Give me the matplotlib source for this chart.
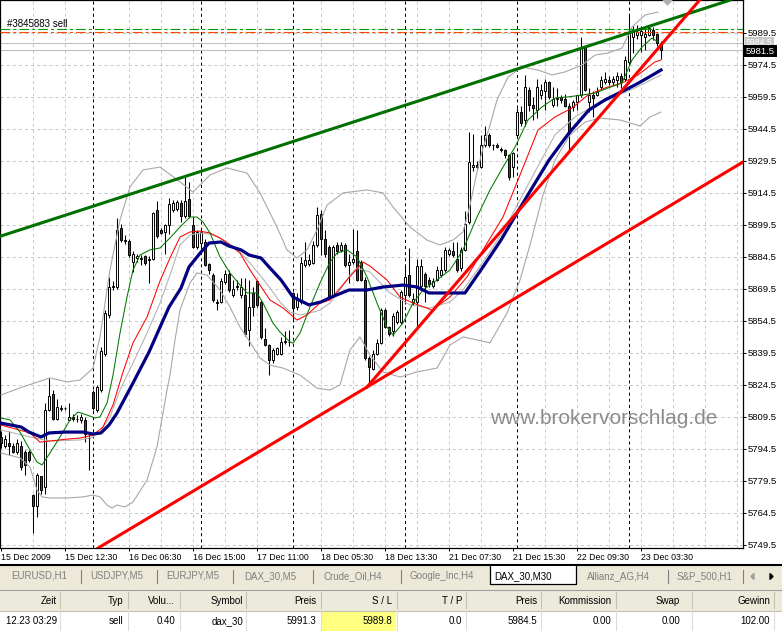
import numpy as np
import matplotlib.pyplot as plt
from matplotlib.patches import Rectangle, Polygon

plt.rcParams['font.family'] = ['Liberation Sans', 'DejaVu Sans']
plt.rcParams['lines.scale_dashes'] = False

# DAX_30, M30 candles, one value per bar
opens = [5800, 5796, 5797, 5796, 5793, 5796, 5793, 5793, 5773, 5767.5,
         5781.5, 5776.5, 5812.5, 5820, 5808.5, 5813, 5813.5, 5808, 5809.5, 5808.5,
         5808, 5808, 5799.5, 5821, 5812.5, 5822, 5839, 5857, 5870.5, 5870.5,
         5898, 5892.5, 5892, 5882, 5884, 5884, 5885, 5883, 5883.5, 5906.5,
         5897, 5896, 5899.5, 5906.5, 5907, 5909.5, 5903.5, 5911.5, 5899.5, 5889,
         5891, 5891.5, 5881, 5876, 5863.5, 5863.5, 5872.5, 5876.5, 5866.5, 5870.5,
         5866.5, 5866.5, 5850, 5867.5, 5873, 5863.5, 5846, 5843, 5836, 5839,
         5839, 5844.5, 5844.5, 5867.5, 5861, 5863.5, 5880.5, 5881, 5881.5, 5890,
         5904.5, 5893, 5889, 5866.5, 5890, 5887.5, 5890, 5880.5, 5882, 5887,
         5882, 5873.5, 5837, 5832, 5839, 5844, 5859.5, 5851.5, 5849.5, 5854,
         5854, 5866.5, 5876, 5863.5, 5863.5, 5871, 5876.5, 5873.5, 5871, 5873.5,
         5876, 5878.5, 5886, 5887, 5883.5, 5879, 5887.5, 5901, 5926.5, 5927.5,
         5926.5, 5937, 5941.5, 5937, 5937, 5935, 5934.5, 5932, 5926.5, 5941.5,
         5952.5, 5948.5, 5962.5, 5955.5, 5953.5, 5960.5, 5962, 5966.5, 5955.5, 5958.5,
         5959.5, 5958.5, 5955, 5954.5, 5957, 5960.5, 5983, 5957, 5960.5, 5960.5,
         5964, 5966.5, 5967.5, 5966.5, 5967.5, 5969, 5968, 5976, 5987.5, 5988.5,
         5988.5, 5987.5, 5988.5, 5991, 5989, 5984.5]
highs = [5803, 5801, 5803, 5797, 5799, 5798, 5794, 5794, 5773.5, 5783,
         5781.5, 5816, 5827.5, 5822, 5818, 5815, 5814, 5816, 5811, 5810.5,
         5811, 5809.5, 5801.5, 5822, 5824.5, 5842, 5859.5, 5875, 5873, 5902.5,
         5900, 5894.5, 5893, 5887, 5886, 5885.5, 5885.5, 5885, 5905.5, 5910.5,
         5898, 5900, 5912, 5911, 5911, 5911, 5922, 5919.5, 5903, 5897,
         5897.5, 5893, 5881.5, 5877, 5864.5, 5874.5, 5878.5, 5878.5, 5873.5, 5873.5,
         5874.5, 5874.5, 5873.5, 5870.5, 5873.5, 5864, 5851, 5843.5, 5841.5, 5842,
         5847, 5849.5, 5850, 5868, 5867.5, 5884.5, 5891.5, 5886, 5892, 5908,
         5906.5, 5897, 5890, 5890, 5891.5, 5891.5, 5891, 5886, 5897.5, 5897,
         5883, 5875, 5838, 5841, 5846, 5860.5, 5860.5, 5852, 5858, 5859.5,
         5869, 5880.5, 5888.5, 5867.5, 5883.5, 5883.5, 5877.5, 5875, 5874.5, 5880,
         5884.5, 5889, 5888.5, 5891.5, 5891.5, 5889, 5906, 5943, 5942, 5929.5,
         5941.5, 5946, 5942.5, 5937.5, 5938, 5936, 5935, 5932.5, 5933.5, 5954,
         5955, 5969.5, 5964, 5959.5, 5968, 5965.5, 5968, 5967, 5964, 5963.5,
         5960.5, 5961, 5956.5, 5958, 5960.5, 5987.5, 5983.5, 5963.5, 5962, 5964,
         5969, 5971, 5969, 5969, 5971, 5970.5, 5978.5, 5998, 5992.5, 5993,
         5992.5, 5991.5, 5992.5, 5992, 5989.5, 5985.5]
lows = [5795, 5795, 5791.5, 5792.5, 5792, 5784.5, 5782, 5788.5, 5755, 5762.5,
        5773.5, 5773.5, 5812, 5808, 5808, 5812, 5812.5, 5808, 5807.5, 5807,
        5806.5, 5797.5, 5784.5, 5812.5, 5811.5, 5821, 5838, 5856, 5869, 5869.5,
        5891.5, 5890.5, 5884.5, 5877.5, 5882, 5880.5, 5880.5, 5872, 5883, 5893.5,
        5895, 5886, 5895, 5905.5, 5906, 5901, 5902.5, 5902.5, 5888.5, 5888,
        5889, 5880, 5876.5, 5863.5, 5859.5, 5863, 5871.5, 5868, 5865.5, 5869,
        5865, 5847.5, 5842.5, 5856.5, 5861, 5846, 5842.5, 5829, 5834.5, 5838.5,
        5838.5, 5843.5, 5842.5, 5855, 5859.5, 5862.5, 5879.5, 5880, 5881, 5889,
        5885.5, 5884.5, 5865, 5865.5, 5886, 5886.5, 5879.5, 5872, 5881, 5873,
        5873, 5836, 5825, 5831.5, 5838.5, 5843.5, 5851, 5847.5, 5847.5, 5853,
        5853, 5862.5, 5865.5, 5862, 5851.5, 5870, 5863.5, 5870.5, 5870, 5873,
        5875, 5877.5, 5885, 5884.5, 5877.5, 5878, 5887, 5900, 5924.5, 5925,
        5926, 5936, 5936, 5934.5, 5935.5, 5933.5, 5931, 5920.5, 5922, 5940.5,
        5946, 5946, 5953, 5948.5, 5949.5, 5958.5, 5953.5, 5958.5, 5954.5, 5955,
        5956.5, 5954.5, 5934.5, 5953, 5953.5, 5959.5, 5962, 5952.5, 5950, 5960,
        5962.5, 5965.5, 5965, 5965, 5964, 5963.5, 5967, 5975, 5980, 5986.5,
        5980.5, 5981.5, 5988, 5986, 5983.5, 5977]
closes = [5797, 5799, 5796, 5793, 5797, 5786, 5787, 5789, 5767.5, 5782,
          5775, 5812.5, 5819, 5808.5, 5814, 5813.5, 5813.5, 5809.5, 5808.5, 5808.5,
          5809.5, 5801.5, 5799.5, 5813.5, 5823.5, 5840.5, 5858, 5870.5, 5871, 5897,
          5892.5, 5892, 5885.5, 5886, 5885, 5883.5, 5881.5, 5883.5, 5905, 5894,
          5895.5, 5899.5, 5909, 5909.5, 5910, 5903.5, 5910.5, 5903.5, 5889, 5896,
          5896, 5880.5, 5878.5, 5864, 5863, 5873, 5876.5, 5869, 5869.5, 5871,
          5870.5, 5848.5, 5861, 5861, 5862, 5847, 5843, 5836, 5841, 5841.5,
          5844.5, 5845, 5844.5, 5860.5, 5865, 5881.5, 5883, 5883, 5890, 5904,
          5893, 5886, 5866, 5889, 5887, 5890, 5880.5, 5882, 5883.5, 5873.5,
          5873.5, 5837, 5833, 5839, 5844, 5859.5, 5851.5, 5848.5, 5856.5, 5858.5,
          5868, 5875, 5866.5, 5864.5, 5880, 5880, 5871, 5871.5, 5873, 5878.5,
          5878.5, 5887.5, 5887.5, 5885.5, 5878.5, 5887.5, 5900, 5929, 5927.5, 5926.5,
          5937, 5941.5, 5937, 5937, 5936, 5934.5, 5932, 5922, 5933, 5952.5,
          5947, 5964, 5955.5, 5954, 5964, 5962.5, 5966.5, 5959.5, 5958.5, 5959,
          5958, 5955, 5942.5, 5957, 5960.5, 5983, 5962.5, 5960.5, 5959, 5961.5,
          5967.5, 5968, 5966.5, 5968, 5969, 5966.5, 5976.5, 5990, 5990, 5990,
          5990.5, 5989, 5991.5, 5988.5, 5984.5, 5981.5]

# indicator lines (bar index, price)
ma_fast_x = [0, 2.25, 4.75, 7.25, 9, 10.25, 12.25, 14.75, 17.25, 19.25,
             21.5, 23.5, 24.75, 26.5, 28, 29.75, 31.5, 33, 34.75, 37.25,
             39.75, 42.25, 44.75, 47.25, 49, 50.5, 52.25, 54.75, 57.25, 59.75,
             61.5, 64, 65.5, 68, 69.75, 72.25, 73, 74.75, 77.25, 79.75,
             82.25, 84, 86.5, 89, 91.5, 94, 96.5, 98, 100.5, 103,
             105.5, 109, 112.25, 115.5, 119, 122.25, 125.5, 128.5, 131.75, 135.25,
             138.5, 141.75, 145.25, 148.5, 151.75, 155.25, 157.75, 160.25, 162.75, 164.25]
ma_fast = [5808.9, 5808.0, 5802.3, 5793.9, 5788.3, 5786.9, 5792.5, 5800.0, 5808.0, 5811.7,
           5810.3, 5808.9, 5809.4, 5815.9, 5829.0, 5848.7, 5865.6, 5878.3, 5885.3, 5887.7,
           5888.6, 5893.3, 5898.4, 5903.1, 5903.1, 5900.8, 5895.6, 5884.4, 5876.9, 5871.2,
           5867.5, 5867.5, 5862.8, 5853.4, 5849.2, 5844.5, 5844.0, 5848.7, 5860.9, 5872.2,
           5882.0, 5886.2, 5887.7, 5884.4, 5875.0, 5862.8, 5851.5, 5847.8, 5853.4, 5862.8,
           5868.9, 5873.6, 5878.3, 5887.7, 5903.1, 5915.8, 5926.5, 5935.9, 5948.6, 5954.7,
           5958.9, 5959.4, 5960.3, 5961.2, 5963.6, 5965.9, 5976.7, 5982.8, 5987.0, 5985.1]

ma_mid_x = [0, 7.25, 9.75, 12.25, 16.5, 19.75, 23, 25.5, 28, 30.5,
            33, 36.5, 39.75, 42.25, 44.75, 47.25, 49.75, 52.25, 54.75, 57.25,
            59.75, 62.25, 64.75, 67.25, 70.5, 74, 76.5, 79.75, 82.25, 86.5,
            90.5, 92.25, 96.5, 99.75, 103, 107.75, 112.25, 116.5, 120.5, 125.5,
            129.75, 134.25, 138.5, 142.75, 146.75, 151, 155.25, 159.25, 163.5, 165]
ma_mid = [5805.6, 5801.9, 5797.6, 5798.1, 5799.0, 5799.5, 5800.9, 5804.7, 5815.0, 5830.5,
          5844.1, 5856.2, 5873.1, 5883.9, 5893.7, 5896.1, 5896.5, 5895.6, 5893.3, 5890.0,
          5886.2, 5878.3, 5871.2, 5864.2, 5860.5, 5854.8, 5857.2, 5862.8, 5864.2, 5873.6,
          5882.0, 5880.1, 5873.6, 5865.6, 5862.8, 5859.5, 5865.6, 5875.0, 5887.7, 5903.1,
          5922.8, 5943.9, 5950.0, 5954.2, 5960.3, 5963.6, 5965.9, 5969.7, 5975.8, 5976.7]

ma_slow_x = [0, 5, 7, 10, 12, 16, 20.5, 23, 25, 27,
             29, 33, 37, 40, 42, 45, 47, 50, 52, 55,
             57, 60, 62, 65, 67, 70, 73, 77, 80, 82,
             87, 91.5, 95.5, 100.5, 104, 107, 116, 120.5, 125, 129,
             133.5, 137, 142, 147, 151, 155, 158.5, 162, 165]
ma_slow = [5806.5, 5804.7, 5802.3, 5800.0, 5801.9, 5802.3, 5802.3, 5801.4, 5801.9, 5805.6,
           5811.2, 5825.3, 5839.8, 5852.5, 5860.9, 5869.8, 5879.7, 5886.7, 5890.9, 5891.4,
           5889.5, 5887.7, 5885.3, 5883.9, 5879.7, 5873.6, 5865.6, 5861.9, 5863.3, 5865.1,
           5868.9, 5868.9, 5870.3, 5871.2, 5870.3, 5867.5, 5867.5, 5879.7, 5892.3, 5905.0,
           5919.0, 5929.8, 5942.5, 5953.3, 5958.0, 5961.7, 5965.0, 5968.7, 5972.0]

bb_mid_x = [0, 7.25, 12.25, 19.75, 23, 24.75, 27.25, 29.75, 33, 36.5,
            39.75, 42.25, 44.75, 47.25, 49.75, 52.25, 54.75, 57.25, 59.75, 62.25,
            64.75, 67.25, 69.75, 72.25, 74.75, 77.25, 79.75, 82.25, 84.75, 87.25,
            89, 92.25, 97.25, 102.25, 107.25, 112.25, 115.5, 120.5, 125.5, 129.75,
            134, 138.5, 143.5, 148.5, 153.5, 158.5, 163.5, 165]
bb_mid = [5803.3, 5800.0, 5798.1, 5798.6, 5800.0, 5802.3, 5809.4, 5822.0, 5834.7, 5848.7,
          5862.8, 5875.9, 5890.0, 5894.7, 5895.6, 5895.1, 5893.3, 5890.5, 5886.7, 5881.5,
          5875.9, 5869.8, 5863.3, 5858.6, 5857.2, 5858.1, 5859.5, 5862.8, 5868.9, 5875.9,
          5879.2, 5877.3, 5867.5, 5861.9, 5860.5, 5863.3, 5868.9, 5882.0, 5896.1, 5911.1,
          5926.1, 5941.6, 5950.0, 5955.6, 5959.4, 5963.6, 5968.3, 5969.7]

bb_up_x = [0, 4.75, 12.25, 16.5, 19.75, 23, 24.75, 27.25, 29.75, 32.25,
           35.5, 39.75, 43.5, 48, 52.25, 56.5, 61.5, 64.75, 69, 71.5,
           74, 76.5, 79, 81.5, 85.5, 91.5, 95.5, 98, 102.25, 106.5,
           109.75, 113, 115.5, 117.25, 119, 120.5, 122.25, 124, 126.75, 130.25,
           134.25, 137.75, 141, 145.25, 148.5, 151.75, 155.25, 157.75, 161, 164.25]
bb_up = [5819.7, 5823.0, 5827.7, 5825.8, 5826.7, 5832.3, 5846.9, 5878.3, 5901.7, 5917.2,
         5925.2, 5926.5, 5921.4, 5914.8, 5922.8, 5926.1, 5923.7, 5914.4, 5898.4, 5887.7,
         5883.9, 5887.7, 5897.0, 5908.7, 5914.4, 5915.8, 5914.4, 5907.8, 5898.4, 5892.3,
         5890.0, 5892.3, 5896.1, 5908.7, 5924.2, 5935.5, 5946.2, 5958.0, 5968.7, 5973.4,
         5972.0, 5969.7, 5971.1, 5974.4, 5979.0, 5980.0, 5982.3, 5992.2, 5997.8, 5999.2]

bb_lo_x = [0, 4.75, 7.25, 9, 10.25, 12.25, 16.5, 20.5, 23, 24.75,
           26.5, 27.75, 29, 31, 33, 36.5, 39, 41.5, 42.25, 43.5,
           44.75, 47.25, 49, 51.5, 54.75, 57.25, 59.75, 62.25, 64.75, 67.25,
           70.5, 74.75, 79, 82.25, 84.75, 87.25, 89.75, 92.25, 95.5, 99.75,
           104, 109, 112.25, 115.5, 119, 122.25, 126.5, 129.75, 132.25, 135.5,
           138.5, 142.25, 146, 149.75, 154.75, 159.75, 162.25, 165]
bb_lo = [5792.5, 5790.2, 5785.9, 5775.1, 5771.9, 5771.4, 5771.4, 5771.9, 5772.8, 5771.9,
         5768.1, 5766.7, 5768.1, 5767.2, 5769.5, 5779.8, 5795.3, 5822.0, 5829.0, 5845.5,
         5859.5, 5872.2, 5876.9, 5875.9, 5868.9, 5860.9, 5851.5, 5844.5, 5837.0, 5833.7,
         5832.3, 5829.0, 5822.9, 5822.0, 5824.4, 5840.8, 5846.9, 5838.4, 5830.5, 5828.1,
         5830.5, 5832.3, 5843.1, 5846.9, 5845.5, 5844.1, 5858.1, 5873.6, 5890.0, 5913.4,
         5929.8, 5941.6, 5947.6, 5949.5, 5948.6, 5945.8, 5950.0, 5952.3]

# hand-drawn trend lines: two anchor points each (bar, price)
trend_green = [(0, 5894.2), (150, 5985.2)]
trend_low = [(91.5, 5823.4), (185.5, 5928.9)]
trend_steep = [(91.5, 5823.4), (174.25, 6003.9)]

order_price = 5991.3
stop_loss = 5989.8
ask = 5984.5
bid = 5981.5

day_breaks = [23, 50, 73, 101, 129, 157]
time_ticks = list(range(0, 161, 16))
time_labels = ['15 Dec 2009', '15 Dec 12:30', '16 Dec 06:30', '16 Dec 15:00', '17 Dec 11:00',
               '18 Dec 05:30', '18 Dec 13:30', '21 Dec 07:30', '21 Dec 15:30', '22 Dec 09:30',
               '23 Dec 03:30']
price_ticks = [5749.5 + 15 * k for k in range(17)]

tabs = ['EURUSD,H1', 'USDJPY,M5', 'EURJPY,M5', 'DAX_30,M5', 'Crude_Oil,H4',
        'Google_Inc,H4', 'DAX_30,M30', 'Allianz_AG,H4', 'S&P_500,H1']
active_tab = 'DAX_30,M30'
columns = ['Zeit', 'Typ', 'Volu...', 'Symbol', 'Preis', 'S / L', 'T / P', 'Preis',
           'Kommission', 'Swap', 'Gewinn']
trade_row = ['12.23 03:29', 'sell', '0.40', 'dax_30', '5991.3', '5989.8', '0.0', '5984.5',
             '0.00', '0.00', '102.00']

# layout (pixels)
W, H = 782, 631
PX = 0.72
tab_x = [11, 90, 166, 244, 323, 410, 494, 587, 677]
tab_sep = [81, 157, 233, 313, 401, 668, 743]
col_right = [57, 123, 175, 243, 316, 392, 462, 537, 611, 680, 770]
col_sep = [60, 128, 180, 246, 321, 397, 466, 541, 616, 692, 774]

fig = plt.figure(figsize=(W / 100, H / 100), dpi=100)
ui = fig.add_axes([0, 0, 1, 1], zorder=0)
ui.set_xlim(0, W)
ui.set_ylim(H, 0)
ui.axis('off')

ax = fig.add_axes([0, 83 / H, 743 / W, 548 / H], zorder=1)
ax.set_facecolor('white')
ax.set_xlim(-0.25, 185.5)
ax.set_ylim(5747.96, 6004.83)

# grid
for p in price_ticks:
    ax.axhline(p, color='#c8c8c8', lw=PX, ls=(0, (2.2, 2.2)), zorder=0.5)
for b in range(8, 186, 8):
    if min(abs(b - d) for d in day_breaks) > 1:
        ax.axvline(b, color='#c8c8c8', lw=PX, ls=(0, (2.2, 2.2)), zorder=0.5)
for d in day_breaks:
    ax.axvline(d, color='black', lw=PX, ls=(0, (2.2, 2.2)), zorder=1)

ax.text(604, 419, 'www.brokervorschlag.de', transform=ui.transData, ha='center',
        va='center', fontsize=15, color='#8c8c8c', zorder=1.2)

# candles
o = np.array(opens)
hi = np.array(highs)
lo = np.array(lows)
c = np.array(closes)
idx = np.arange(len(o))
up = c >= o
ax.vlines(idx, lo, hi, color='black', lw=0.75, zorder=2)
ax.bar(idx[up], (c - o)[up], bottom=o[up], width=0.5, color='white',
       edgecolor='black', lw=0.7, zorder=3)
ax.bar(idx[~up], (o - c)[~up], bottom=c[~up], width=0.5, color='#d01010',
       edgecolor='black', lw=0.7, zorder=3)

# indicators
ax.plot(bb_up_x, bb_up, color='#a8a8a8', lw=0.8, zorder=4)
ax.plot(bb_lo_x, bb_lo, color='#a8a8a8', lw=0.8, zorder=4)
ax.plot(bb_mid_x, bb_mid, color='#b4b4b4', lw=0.8, zorder=4)
ax.plot(ma_mid_x, ma_mid, color='#ff0000', lw=0.75, zorder=4)
ax.plot(ma_fast_x, ma_fast, color='#007800', lw=0.75, zorder=4)
ax.plot(ma_slow_x, ma_slow, color='#000080', lw=2.3, zorder=5)

# order / price lines
ax.axhline(bid, color='#c0c0c0', lw=0.8, zorder=1.5)
ax.axhline(ask, color='#c0c0c0', lw=0.8, zorder=1.5)
ax.axhline(order_price, color='#00a000', lw=0.8, ls=(0, (7, 2.2, 2.2, 2.2)), zorder=6)
ax.axhline(stop_loss, color='#ff4500', lw=0.8, ls=(0, (7, 2.2, 2.2, 2.2)), zorder=6)
ax.text(7, 24, '#3845883 sell', transform=ui.transData, ha='left', va='center',
        fontsize=7, color='black', zorder=7)

# trend lines
ax.axline(trend_green[0], trend_green[1], color='#007000', lw=2.2, zorder=6)
ax.axline(trend_low[0], trend_low[1], color='#ff0000', lw=2.2, zorder=6)
(x0, y0), (x1, y1) = trend_steep
slope = (y1 - y0) / (x1 - x0)
ax.plot([x0, 190], [y0, y0 + slope * (190 - x0)], color='#ff0000', lw=2.2, zorder=6)

ax.add_patch(Polygon([(663, 0), (672, 0), (667.5, 5)], closed=True, transform=ui.transData,
                     color='#b0b0b0', zorder=7, clip_on=False))

# axes styling
for s in ax.spines.values():
    s.set_linewidth(0.9)
    s.set_color('black')
ax.yaxis.tick_right()
ax.set_yticks(price_ticks)
ax.set_yticklabels([f'{p:.1f}' for p in price_ticks])
ax.tick_params(axis='y', direction='out', length=3 * PX, width=PX, pad=1.5,
               labelsize=6.8, colors='black')
ax.set_xticks(time_ticks)
ax.set_xticklabels(time_labels, ha='left')
ax.tick_params(axis='x', direction='out', length=3 * PX, width=PX, pad=1.5,
               labelsize=6.3, colors='black')

# price tags on the right axis (ask tag half hidden behind the bid tag)
ui.text(746, 42.5, f'{ask:.1f}', color='white', fontsize=6.3, ha='left', va='center',
        bbox=dict(boxstyle='square,pad=0.15', fc='#c8c8c8', ec='none'))
ui.text(746, 51, f'{bid:.1f}', color='white', fontsize=6.8, ha='left', va='center',
        bbox=dict(boxstyle='square,pad=0.2', fc='black', ec='none'))

# symbol tabs
ui.plot([0, W], [564.5, 564.5], color='black', lw=1.5)
ui.add_patch(Rectangle((0, 565.5), W, 23.5, color='#ece9d8', zorder=1))
for x, t in zip(tab_x, tabs):
    if t == active_tab:
        ui.add_patch(Rectangle((490, 565.5), 86, 18, fc='white', ec='none', zorder=2))
        ui.plot([490, 490, 576, 576], [565.5, 583.5, 583.5, 565.5], color='black',
                lw=0.9, zorder=3)
    ui.text(x, 576, t, fontsize=7, ha='left', va='center', zorder=4,
            color='black' if t == active_tab else '#808080')
for x in tab_sep:
    ui.plot([x, x], [570, 583], color='#808080', lw=0.8, zorder=3)
ui.add_patch(Polygon([(754, 573.5), (754, 579.5), (751, 576.5)], color='#a0a0a0', zorder=3))
ui.add_patch(Polygon([(770, 573.5), (770, 579.5), (773, 576.5)], color='black', zorder=3))

# trade table
ui.plot([0, W], [589.5, 589.5], color='#a0a0a0', lw=0.8)
ui.add_patch(Rectangle((0, 590.5), W, 19.5, color='#ebeadb', zorder=1))
ui.plot([0, W], [610.5, 610.5], color='#c5c2b2', lw=0.8, zorder=2)
ui.add_patch(Rectangle((322, 611.5), 73, 19.5, color='#ffff80', zorder=1))
for x in col_sep:
    ui.plot([x, x], [592, 608], color='#c5c2b2', lw=0.8, zorder=2)
    ui.plot([x, x], [611, 631], color='#dcdcdc', lw=0.8, zorder=2)
for x, name, val in zip(col_right, columns, trade_row):
    ui.text(x, 601, name, fontsize=7, ha='right', va='center', color='black', zorder=3)
    ui.text(x, 621, val, fontsize=7, ha='right', va='center', color='black', zorder=3)

fig.savefig('out.png', dpi=100)
